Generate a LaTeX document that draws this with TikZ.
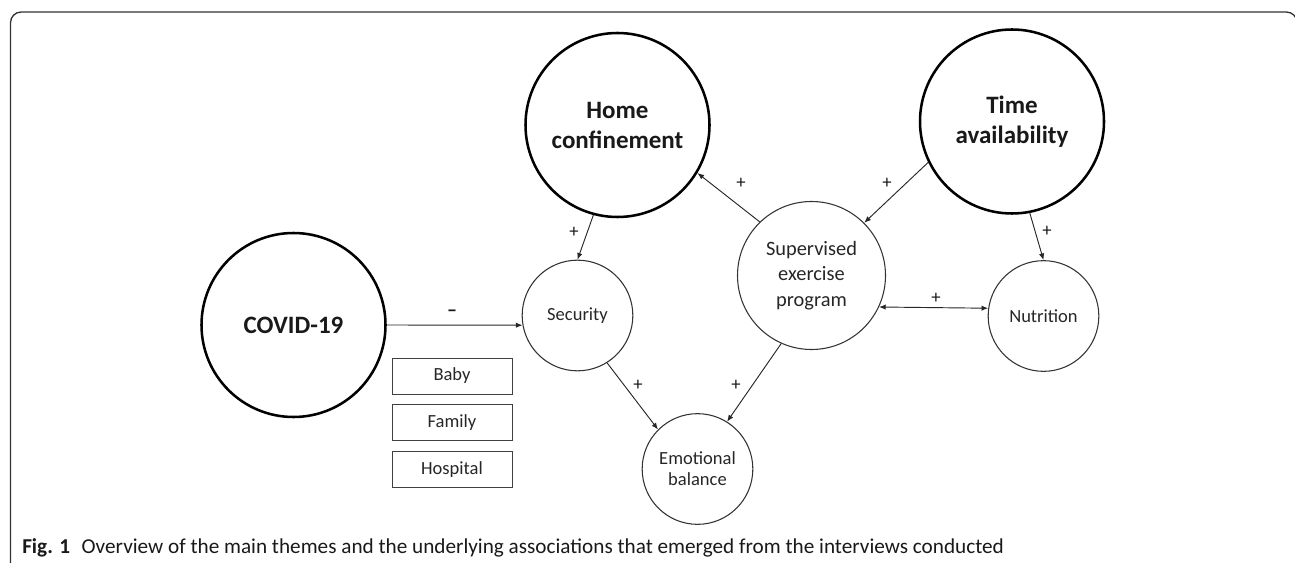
\documentclass[tikz,border=0pt]{standalone}
\usepackage{fontspec}
\setmainfont{Carlito}
\usetikzlibrary{positioning,arrows.meta}

\tikzset{
  bigtheme/.style={circle, draw=black, line width=1.9pt, minimum size=138pt, align=center,
    font=\fontsize{18.75}{22.5}\selectfont\bfseries, text=black!90},
  smalltheme/.style={circle, draw=black!80, line width=0.8pt, minimum size=83pt, align=center,
    font=\fontsize{13.9}{15.8}\selectfont, text=black!85},
  subbox/.style={draw=black!75, line width=0.7pt, minimum width=90pt, minimum height=27pt,
    font=\fontsize{13.9}{16}\selectfont, text=black!85},
  link/.style={-{Latex[length=5pt,width=4pt]}, line width=0.7pt, black!85},
  sign/.style={font=\fontsize{14}{16}\selectfont, text=black!90, inner sep=0pt}
}

\begin{document}
\begin{tikzpicture}[x=0.75pt,y=-0.75pt]
                \useasboundingbox (0,0) rectangle (1295,563);
                \clip (0,0) rectangle (1295,563);
                % frame
                \draw[line width=1pt, black!80, rounded corners=8pt] (10.5,570) -- (10.5,12) -- (1297,12) -- (1297,60);
                % themes
                \node[bigtheme] (covid) at (293.5,325) {COVID-19};
                \node[bigtheme] (home) at (617.5,125) {Home\\confinement};
                \node[bigtheme] (time) at (1012,121.5) {Time\\availability};
                \node[smalltheme, minimum size=111pt, font=\fontsize{15.3}{19}\selectfont] (sup) at (811.5,275.5) {Supervised\\exercise\\program};
                \node[smalltheme] (security) at (577.5,315.5) {Security};
                \node[smalltheme] (nutrition) at (1043.5,316) {Nutrition};
                \node[smalltheme] (emotional) at (697.5,469) {Emotional\\balance};
                % sub-themes of security
                \node[subbox] (baby) at (452,376) {Baby};
                \node[subbox, below=7.5pt of baby] (family) {Family};
                \node[subbox, below=7.5pt of family] (hospital) {Hospital};
                % associations
                \draw[link] (covid.0) -- (security.190);
                \draw[link] (home.255) -- (security.90);
                \draw[link] (sup.134) -- (home.-31);
                \draw[link] (time.206) -- (sup.45);
                \draw[link] (time.281) -- (nutrition.90);
                \draw[link, {Latex[length=5pt,width=4pt]}-{Latex[length=5pt,width=4pt]}] (sup.-25) -- (nutrition.172);
                \draw[link] (security.-58) -- (emotional.135);
                \draw[link] (sup.246) -- (emotional.58);
                \node[sign, font=\fontsize{15}{16}\selectfont\bfseries] (minus) at (452,313) {–};
                \node[sign] (plusHS) at (574,232) {+};
                \node[sign] (plusSH) at (741,183) {+};
                \node[sign] (plusTS) at (887,183) {+};
                \node[sign] (plusTN) at (1047,231) {+};
                \node[sign] (plusSN) at (936,298) {+};
                \node[sign] (plusSE) at (638,385) {+};
                \node[sign] (plusXE) at (736,385) {+};
                % caption
                \node[anchor=base west, inner sep=0pt, font=\fontsize{15.9}{18}\selectfont, text=black!90] (caption) at (22,553)
                  {\textbf{Fig. 1}\hspace{0.55em}Overview of the main themes and the underlying associations that emerged from the interviews conducted};
            \end{tikzpicture}
\end{document}
